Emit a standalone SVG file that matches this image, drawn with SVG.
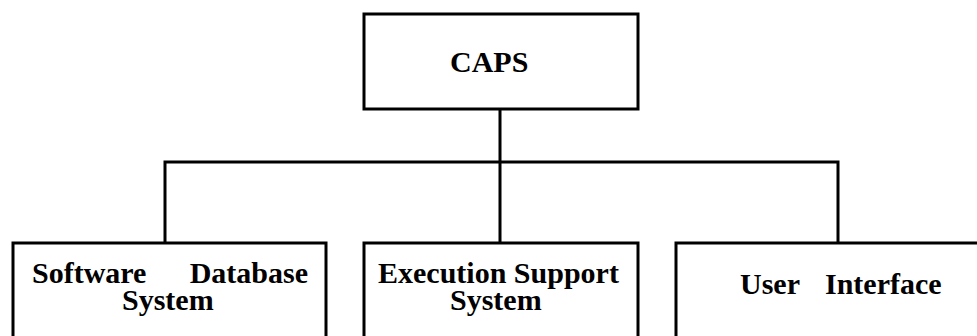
<svg xmlns="http://www.w3.org/2000/svg" width="977" height="336" viewBox="0 0 977 336">
<style>
.box{fill:#fff;stroke:#000;stroke-width:3}
.lbl{font-family:"Liberation Serif","Times New Roman",serif;font-weight:bold;font-size:30px;fill:#000}
.con{fill:none;stroke:#000;stroke-width:3}
</style>
<rect width="977" height="336" fill="#fff"/>
<g id="connectors">
<path class="con" d="M500 109 V243 M165 243 V162 H838 V243"/>
</g>
<g id="caps">
<rect class="box" x="364" y="14" width="274" height="95"/>
<text class="lbl" x="450" y="72">CAPS</text>
</g>
<g id="software-database-system">
<rect class="box" x="13" y="243" width="313" height="110"/>
<text class="lbl" y="283"><tspan x="32">Software</tspan><tspan x="308" text-anchor="end">Database</tspan></text>
<text class="lbl" x="122" y="310">System</text>
</g>
<g id="execution-support-system">
<rect class="box" x="364" y="243" width="274" height="110"/>
<text class="lbl" x="378" y="283">Execution Support</text>
<text class="lbl" x="450" y="310">System</text>
</g>
<g id="user-interface">
<rect class="box" x="676" y="243" width="320" height="110"/>
<text class="lbl" y="294"><tspan x="740">User</tspan><tspan x="825">Interface</tspan></text>
</g>
</svg>
